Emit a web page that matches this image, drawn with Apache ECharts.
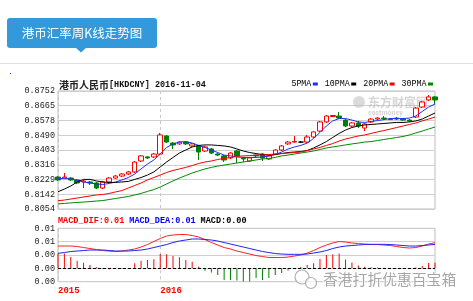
<!DOCTYPE html>
<html>
<head>
<meta charset="utf-8">
<script src="https://cdn.jsdelivr.net/npm/echarts@6/dist/echarts.min.js"></script>
<style>
html, body { margin: 0; padding: 0; background: #fff; }
#chart { width: 473px; height: 301px; }
</style>
</head>
<body>
<div id="chart"></div>
<script>
// weekly bars, labelled by monday
const weeks = [
  '2015-09-14','2015-09-21','2015-09-28','2015-10-05','2015-10-12','2015-10-19','2015-10-26','2015-11-02',
  '2015-11-09','2015-11-16','2015-11-23','2015-11-30','2015-12-07','2015-12-14','2015-12-21','2015-12-28',
  '2016-01-04','2016-01-11','2016-01-18','2016-01-25','2016-02-01','2016-02-08','2016-02-15','2016-02-22',
  '2016-02-29','2016-03-07','2016-03-14','2016-03-21','2016-03-28','2016-04-04','2016-04-11','2016-04-18',
  '2016-04-25','2016-05-02','2016-05-09','2016-05-16','2016-05-23','2016-05-30','2016-06-06','2016-06-13',
  '2016-06-20','2016-06-27','2016-07-04','2016-07-11','2016-07-18','2016-07-25','2016-08-01','2016-08-08',
  '2016-08-15','2016-08-22','2016-08-29','2016-09-05','2016-09-12','2016-09-19','2016-09-26','2016-10-03',
  '2016-10-10','2016-10-17','2016-10-24','2016-10-31'
];

const opens = [
  0.8243,0.8237,0.8237,0.8226,0.8214,0.8214,0.8208,0.8178,0.8214,0.8237,
  0.8249,0.8261,0.8273,0.8338,0.8362,0.8362,0.8379,0.8486,0.8444,0.8439,
  0.8450,0.8427,0.8427,0.8397,0.8409,0.8379,0.8368,0.8356,0.8397,0.8356,
  0.8338,0.8373,0.8379,0.8350,0.8379,0.8403,0.8439,0.8450,0.8450,0.8450,
  0.8480,0.8515,0.8569,0.8601,0.8604,0.8580,0.8545,0.8563,0.8533,0.8569,
  0.8586,0.8592,0.8586,0.8592,0.8586,0.8580,0.8598,0.8657,0.8699,0.8717
];
const closes = [
  0.8226,0.8243,0.8226,0.8208,0.8220,0.8208,0.8178,0.8214,0.8237,0.8249,
  0.8261,0.8273,0.8332,0.8368,0.8356,0.8379,0.8492,0.8450,0.8433,0.8450,
  0.8439,0.8439,0.8391,0.8421,0.8385,0.8373,0.8344,0.8385,0.8368,0.8350,
  0.8356,0.8368,0.8356,0.8368,0.8403,0.8427,0.8450,0.8453,0.8450,0.8480,
  0.8510,0.8569,0.8604,0.8607,0.8592,0.8545,0.8563,0.8545,0.8557,0.8586,
  0.8592,0.8589,0.8583,0.8586,0.8580,0.8575,0.8651,0.8687,0.8717,0.8699
];
const lows = [
  0.8220,0.8232,0.8220,0.8202,0.8178,0.8196,0.8172,0.8172,0.8208,0.8232,
  0.8243,0.8255,0.8267,0.8332,0.8350,0.8356,0.8373,0.8444,0.8409,0.8433,
  0.8433,0.8421,0.8344,0.8391,0.8379,0.8368,0.8332,0.8350,0.8326,0.8332,
  0.8332,0.8356,0.8338,0.8344,0.8373,0.8397,0.8433,0.8447,0.8444,0.8444,
  0.8474,0.8510,0.8563,0.8598,0.8586,0.8539,0.8539,0.8533,0.8515,0.8563,
  0.8580,0.8580,0.8580,0.8580,0.8575,0.8569,0.8592,0.8651,0.8693,0.8675
];
const highs = [
  0.8249,0.8267,0.8243,0.8232,0.8226,0.8220,0.8214,0.8220,0.8243,0.8255,
  0.8267,0.8279,0.8338,0.8373,0.8368,0.8385,0.8504,0.8492,0.8450,0.8456,
  0.8456,0.8444,0.8433,0.8427,0.8415,0.8385,0.8373,0.8391,0.8403,0.8362,
  0.8362,0.8373,0.8385,0.8373,0.8409,0.8433,0.8456,0.8486,0.8456,0.8492,
  0.8515,0.8575,0.8610,0.8610,0.8628,0.8586,0.8569,0.8575,0.8563,0.8592,
  0.8598,0.8604,0.8592,0.8598,0.8592,0.8586,0.8657,0.8693,0.8728,0.8722
];

const ma5 = [
  0.8234,0.8234,0.8232,0.8223,0.8214,0.8208,0.8202,0.8199,0.8205,0.8214,
  0.8226,0.8240,0.8261,0.8291,0.8320,0.8344,0.8379,0.8418,0.8439,0.8450,
  0.8453,0.8444,0.8430,0.8418,0.8403,0.8388,0.8373,0.8368,0.8362,0.8359,
  0.8359,0.8359,0.8362,0.8368,0.8376,0.8391,0.8409,0.8421,0.8430,0.8444,
  0.8471,0.8507,0.8545,0.8575,0.8589,0.8589,0.8580,0.8569,0.8566,0.8572,
  0.8577,0.8583,0.8589,0.8589,0.8589,0.8592,0.8604,0.8631,0.8657,0.8675
];
const ma10 = [
  0.8156,0.8172,0.8190,0.8214,0.8229,0.8229,0.8220,0.8214,0.8211,0.8211,
  0.8214,0.8217,0.8229,0.8240,0.8255,0.8273,0.8303,0.8332,0.8359,0.8385,
  0.8403,0.8421,0.8430,0.8433,0.8433,0.8430,0.8427,0.8421,0.8409,0.8397,
  0.8388,0.8382,0.8376,0.8373,0.8376,0.8382,0.8388,0.8391,0.8394,0.8400,
  0.8415,0.8433,0.8453,0.8477,0.8501,0.8521,0.8536,0.8545,0.8551,0.8554,
  0.8557,0.8560,0.8563,0.8566,0.8566,0.8569,0.8575,0.8586,0.8604,0.8622
];
const ma20 = [
  0.8103,0.8107,0.8113,0.8119,0.8125,0.8131,0.8137,0.8140,0.8146,0.8155,
  0.8163,0.8178,0.8193,0.8208,0.8226,0.8240,0.8255,0.8270,0.8282,0.8291,
  0.8300,0.8311,0.8323,0.8332,0.8338,0.8347,0.8353,0.8359,0.8365,0.8368,
  0.8370,0.8373,0.8373,0.8376,0.8379,0.8382,0.8385,0.8388,0.8391,0.8400,
  0.8409,0.8418,0.8430,0.8441,0.8456,0.8468,0.8477,0.8486,0.8492,0.8501,
  0.8510,0.8518,0.8527,0.8536,0.8545,0.8554,0.8563,0.8575,0.8586,0.8598
];
const ma30 = [
  0.8084,0.8087,0.8090,0.8093,0.8095,0.8098,0.8101,0.8104,0.8110,0.8116,
  0.8122,0.8128,0.8137,0.8146,0.8158,0.8169,0.8184,0.8202,0.8220,0.8237,
  0.8252,0.8267,0.8279,0.8291,0.8300,0.8308,0.8314,0.8320,0.8326,0.8332,
  0.8338,0.8344,0.8350,0.8353,0.8359,0.8368,0.8373,0.8379,0.8385,0.8391,
  0.8397,0.8406,0.8415,0.8421,0.8427,0.8433,0.8439,0.8444,0.8450,0.8453,
  0.8459,0.8465,0.8471,0.8477,0.8483,0.8492,0.8504,0.8515,0.8527,0.8539
];

const difs = [
  0.00669,0.00669,0.00669,0.00654,0.00624,0.00594,0.00564,0.00534,0.00519,0.00504,
  0.00519,0.00549,0.00579,0.00639,0.00714,0.00804,0.00894,0.00969,0.00999,0.01014,
  0.01014,0.00984,0.00939,0.00864,0.00774,0.00699,0.00624,0.00579,0.00519,0.00474,
  0.00429,0.00384,0.00354,0.00324,0.00324,0.00324,0.00339,0.00369,0.00399,0.00459,
  0.00534,0.00624,0.00699,0.00759,0.00804,0.00789,0.00759,0.00744,0.00729,0.00714,
  0.00714,0.00699,0.00684,0.00654,0.00624,0.00609,0.00624,0.00669,0.00729,0.00768
];
const deas = [
  0.00450,0.00474,0.00504,0.00519,0.00534,0.00549,0.00549,0.00549,0.00534,0.00519,
  0.00519,0.00519,0.00534,0.00549,0.00579,0.00624,0.00669,0.00714,0.00774,0.00819,
  0.00849,0.00879,0.00879,0.00864,0.00849,0.00819,0.00774,0.00729,0.00684,0.00639,
  0.00594,0.00549,0.00504,0.00474,0.00444,0.00429,0.00420,0.00420,0.00420,0.00429,
  0.00459,0.00489,0.00534,0.00594,0.00639,0.00669,0.00684,0.00699,0.00714,0.00720,
  0.00720,0.00720,0.00714,0.00699,0.00684,0.00669,0.00669,0.00684,0.00699,0.00720
];
const macds = [
  0.00444,0.00444,0.00339,0.00228,0.00168,0.00099,0.00039,-0.00015,-0.00027,-0.00021,
  -0.00009,0.00009,0.00150,0.00228,0.00249,0.00270,0.00429,0.00420,0.00369,0.00330,
  0.00249,0.00198,0.00048,-0.00072,-0.00126,-0.00201,-0.00351,-0.00351,-0.00366,-0.00396,
  -0.00396,-0.00291,-0.00351,-0.00291,-0.00201,-0.00141,-0.00066,-0.00021,0.00039,0.00099,
  0.00150,0.00279,0.00399,0.00420,0.00444,0.00264,0.00174,0.00084,0.00048,0.00030,
  0.00024,0.00015,0.00009,-0.00006,-0.00015,-0.00006,0.00024,0.00069,0.00159,0.00168
];

const priceTicks = ['0.8054','0.8142','0.8229','0.8316','0.8403','0.8490','0.8578','0.8665','0.8752'];
const macdTicks = ['0.00','0.00','0.00','0.01','0.01'];
const maNames = ['5PMA', '10PMA', '20PMA', '30PMA'];
const maColors = ['#1f2dff', '#000000', '#ff0000', '#008a00'];

const MONO = '"Liberation Mono", "DejaVu Sans Mono", monospace';
const CJK = '"Noto Sans CJK SC", sans-serif';

let kData = opens.map((o, i) => [o, closes[i], lows[i], highs[i]]);
let maData = [ma5, ma10, ma20, ma30];

// first week of each year gets a label and a dashed line
let yearStart = weeks.map((w, i) => i === 0 || w.slice(0, 4) !== weeks[i - 1].slice(0, 4));

let last = weeks.length - 1;
let macdTitle = '{r|MACD_DIF:' + difs[last].toFixed(2) + '} {b|MACD_DEA:' + deas[last].toFixed(2) +
  '} {k|MACD:' + macds[last].toFixed(2) + '}';

let legendRich = { s: { width: 1.5, height: 3 } };
maColors.forEach((c, i) => {
  legendRich['m' + i] = { width: 5, height: 3, backgroundColor: c, verticalAlign: 'middle' };
});

let maSeries = maNames.map((name, i) => ({
  name: name,
  type: 'line',
  xAxisIndex: 0,
  yAxisIndex: 0,
  data: maData[i],
  symbol: 'none',
  showSymbol: false,
  silent: true,
  lineStyle: { width: 1, color: maColors[i] },
  itemStyle: { color: maColors[i] },
  z: 3
}));

let chart = echarts.init(document.getElementById('chart'));
let option = {
  animation: false,
  backgroundColor: '#fff',
  title: [
    {
      text: '{c|港币人民币}{l|[HKDCNY] 2016-11-04}',
      left: 59,
      top: 80,
      padding: 0,
      textStyle: {
        rich: {
          c: { fontFamily: CJK, fontSize: 10, color: '#222' },
          l: { fontFamily: MONO, fontSize: 8.5, color: '#111' }
        }
      }
    },
    {
      text: macdTitle,
      left: 58,
      top: 212,
      padding: 0,
      textStyle: {
        rich: {
          r: { fontFamily: MONO, fontSize: 8.5, color: '#ff0000' },
          b: { fontFamily: MONO, fontSize: 8.5, color: '#0000ff' },
          k: { fontFamily: MONO, fontSize: 8.5, color: '#000' }
        }
      }
    }
  ],
  legend: {
    data: maNames,
    right: 40,
    top: 80,
    padding: 0,
    icon: 'rect',
    itemWidth: 0,
    itemHeight: 0,
    itemGap: 2,
    selectedMode: false,
    formatter: name => name + '{s| }{m' + maNames.indexOf(name) + '| }',
    textStyle: { fontFamily: MONO, fontSize: 8.3, color: '#000', rich: legendRich }
  },
  grid: [
    { left: 58, top: 91, width: 377, height: 118, show: true, borderColor: '#bdbdbd', borderWidth: 1 },
    { left: 58, top: 228.3, width: 377, height: 53.4, show: true, borderColor: '#bdbdbd', borderWidth: 1 }
  ],
  xAxis: [
    {
      type: 'category',
      gridIndex: 0,
      data: weeks,
      boundaryGap: false,
      axisLine: { show: false },
      axisTick: { show: false },
      axisLabel: { show: false },
      splitLine: {
        show: true,
        interval: (i) => yearStart[i],
        lineStyle: { type: [3, 3], color: '#c8c8c8', width: 1 }
      }
    },
    {
      type: 'category',
      gridIndex: 1,
      data: weeks,
      boundaryGap: false,
      axisLine: { show: false },
      axisTick: { show: false },
      axisLabel: {
        interval: (i) => yearStart[i],
        formatter: (v) => v.slice(0, 4),
        align: 'left',
        margin: 5,
        color: '#ff0000',
        fontFamily: MONO,
        fontSize: 9,
        fontWeight: 'bold'
      },
      splitLine: {
        show: true,
        interval: (i) => yearStart[i],
        lineStyle: { type: [3, 3], color: '#c8c8c8', width: 1 }
      }
    }
  ],
  yAxis: [
    {
      type: 'value',
      gridIndex: 0,
      min: 0.8054,
      max: 0.8752,
      interval: 0.008725,
      axisLine: { show: false },
      axisTick: { show: false },
      axisLabel: {
        formatter: (v, i) => priceTicks[i],
        margin: 3,
        color: '#222',
        fontFamily: MONO,
        fontSize: 8.5
      },
      splitLine: { lineStyle: { color: '#cfcfcf', width: 1 } }
    },
    {
      type: 'value',
      gridIndex: 1,
      min: -0.004,
      max: 0.012,
      interval: 0.004,
      axisLine: { show: false },
      axisTick: { show: false },
      axisLabel: {
        formatter: (v, i) => macdTicks[i],
        margin: 3,
        color: '#222',
        fontFamily: MONO,
        fontSize: 8.5
      },
      splitLine: { lineStyle: { color: '#cfcfcf', width: 1 } }
    }
  ],
  series: [
    {
      name: 'K',
      type: 'candlestick',
      xAxisIndex: 0,
      yAxisIndex: 0,
      data: kData,
      barWidth: 5,
      silent: true,
      itemStyle: {
        color: '#ffffff',
        color0: '#008000',
        borderColor: '#ff0000',
        borderColor0: '#008000',
        borderColorDoji: '#000000',
        borderWidth: 1
      },
      z: 2
    },
    ...maSeries,
    {
      name: 'MACD',
      type: 'bar',
      xAxisIndex: 1,
      yAxisIndex: 1,
      data: macds,
      barWidth: 1,
      silent: true,
      itemStyle: { color: (p) => p.value >= 0 ? '#ff0000' : '#008000' },
      markLine: {
        silent: true,
        symbol: 'none',
        label: { show: false },
        lineStyle: { color: '#000', type: [3, 2], width: 1 },
        data: [{ yAxis: 0 }]
      }
    },
    {
      name: 'MACD_DIF',
      type: 'line',
      xAxisIndex: 1,
      yAxisIndex: 1,
      data: difs,
      symbol: 'none',
      silent: true,
      lineStyle: { width: 1, color: '#ff2020' }
    },
    {
      name: 'MACD_DEA',
      type: 'line',
      xAxisIndex: 1,
      yAxisIndex: 1,
      data: deas,
      symbol: 'none',
      silent: true,
      lineStyle: { width: 1, color: '#2020ff' }
    }
  ],
  graphic: [
    { type: 'line', shape: { x1: 0, y1: 63.5, x2: 473, y2: 63.5 }, style: { stroke: '#e2e2e2', lineWidth: 1 } },
    { type: 'rect', shape: { x: 7, y: 18, width: 150, height: 30, r: 3 }, style: { fill: '#3399db' } },
    { type: 'polygon', shape: { points: [[75, 47], [87, 47], [81, 52.5]] }, style: { fill: '#3399db' } },
    {
      type: 'text', x: 82, y: 33,
      style: { text: '港币汇率周K线走势图', fill: '#fff', font: '12.5px "Noto Sans CJK SC"', align: 'center', verticalAlign: 'middle' }
    },
    { type: 'rect', shape: { x: 10, y: 73, width: 1, height: 1 }, style: { fill: '#2040ff' } },
    // eastmoney watermark
    {
      type: 'circle', shape: { cx: 359, cy: 102, r: 6 }, style: { fill: 'rgba(190,190,190,0.55)' }, z: 1
    },
    {
      type: 'text', x: 368, y: 102,
      style: { text: '东方财富网', fill: 'rgba(185,185,185,0.6)', font: 'bold 12px "Noto Sans CJK SC"', verticalAlign: 'middle' }, z: 1
    },
    {
      type: 'text', x: 368, y: 113,
      style: { text: 'eastmoney', fill: 'rgba(185,185,185,0.6)', font: 'bold 7px Roboto', verticalAlign: 'middle' }, z: 1
    },
    // bottom watermark
    { type: 'circle', shape: { cx: 302, cy: 277, r: 7 }, style: { fill: 'rgba(255,255,255,0.7)', stroke: '#b0b0b0', lineWidth: 1.2 }, z: 50 },
    { type: 'circle', shape: { cx: 311, cy: 283, r: 5.5 }, style: { fill: 'rgba(255,255,255,0.7)', stroke: '#b0b0b0', lineWidth: 1.2 }, z: 50 },
    {
      type: 'text', x: 323, y: 279, z: 50,
      style: { text: '香港打折优惠百宝箱', fill: '#a6a6a6', stroke: '#fff', lineWidth: 1.5, font: '14.8px "Noto Sans CJK SC"', verticalAlign: 'middle' }
    }
  ]
};
chart.setOption(option);
</script>
</body>
</html>
